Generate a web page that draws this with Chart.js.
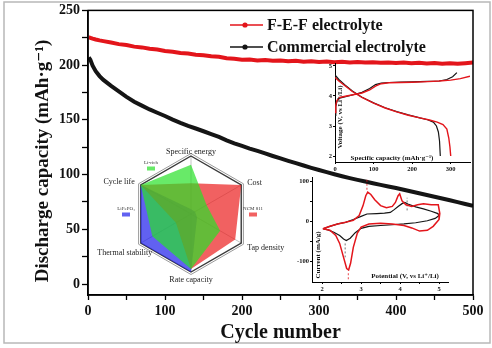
<!DOCTYPE html>
<html>
<head>
<meta charset="utf-8">
<script src="https://cdn.jsdelivr.net/npm/chart.js@4.4.1/dist/chart.umd.min.js"></script>
<style>
  body { margin: 0; background: #fff; }
  #wrap { position: relative; width: 492px; height: 348px; overflow: hidden; }
  #wrap canvas { position: absolute; }
</style>
</head>
<body>
<div id="wrap">
  <canvas id="main" width="492" height="348" style="left:0;top:0"></canvas>
  <canvas id="radar" width="220" height="160" style="left:81px;top:134px"></canvas>
  <canvas id="volt" width="165" height="120" style="left:310px;top:55px"></canvas>
  <canvas id="cv" width="170" height="124" style="left:285px;top:172px"></canvas>
</div>
<script>
// main panel: discharge capacity vs cycle
const cycles = [1, 3, 6, 10, 15, 20, 30, 40, 50, 60, 70, 80, 90, 100, 110, 120, 130, 140, 150, 160,
  170, 180, 190, 200, 210, 220, 230, 240, 250, 260, 270, 280, 290, 300, 310, 320, 330, 340, 350, 360,
  370, 380, 390, 400, 410, 420, 430, 440, 450, 460, 470, 480, 490, 500];
const fefCapacity = [225.5, 225, 224.2, 223.4, 222.6, 221.9, 220.6, 219.2, 218.3, 216.9, 216.2, 214.9, 214.2, 212.9, 212.3, 211.1, 210.6, 209.5, 209.1, 208.1,
  207.7, 206.3, 205.9, 205.0, 205.1, 204.3, 204.6, 203.9, 204.2, 203.5, 203.9, 203.2, 203.6, 202.9, 203.3, 202.7, 203.1, 202.5, 202.9, 202.3,
  202.7, 202.1, 202.5, 201.9, 202.3, 201.7, 202.1, 201.5, 201.9, 201.3, 201.7, 201.2, 201.8, 202.3];
const commercialCapacity = [207, 205, 199.5, 194.5, 190, 186.5, 181, 176, 171, 166.5, 163, 159.5, 156.5, 153.5, 150.2, 147.3, 144.6, 142.1, 139.6, 137,
  134.4, 131.2, 128.6, 126.2, 123.8, 121.6, 119.3, 117, 114.8, 112.6, 110.4, 108.3, 106.2, 104.2, 102.2, 100.3, 98.5, 96.8, 95.2, 93.7,
  92.1, 90.6, 89.1, 87.7, 86.1, 84.5, 82.9, 81.3, 79.7, 78.1, 76.5, 74.8, 73.1, 71.4];

// radar inset
const radarAxes = ['Specific energy', 'Cost', 'Tap density', 'Rate capacity', 'Thermal stability', 'Cycle life'];
const liRich = [0.85, 0.31, 0.58, 0.95, 0.77, 1.0];
const ncm811 = [0.53, 1.0, 0.88, 0.95, 0.3, 1.0];
const lfp = [0.08, 0.08, 0.12, 1.0, 1.0, 1.0];

// voltage profile inset
const redChargeCap = [0, 2, 5, 12, 30, 50, 70, 90, 105, 120, 140, 170, 200, 240, 270, 300, 325, 350];
const redChargeV = [3.45, 3.7, 3.85, 3.95, 4.0, 4.05, 4.1, 4.2, 4.33, 4.41, 4.44, 4.45, 4.46, 4.48, 4.5, 4.53, 4.58, 4.66];
const blackChargeCap = [0, 2, 5, 12, 30, 50, 70, 90, 105, 120, 140, 170, 200, 240, 270, 290, 305, 316];
const blackChargeV = [3.35, 3.65, 3.82, 3.93, 3.99, 4.05, 4.12, 4.25, 4.38, 4.43, 4.45, 4.46, 4.47, 4.49, 4.5, 4.55, 4.64, 4.78];
const redDisCap = [0, 10, 25, 45, 70, 100, 130, 160, 190, 220, 245, 265, 280, 290, 295, 298, 300];
const redDisV = [4.62, 4.5, 4.35, 4.15, 3.95, 3.76, 3.6, 3.47, 3.36, 3.27, 3.2, 3.13, 3.05, 2.9, 2.6, 2.3, 2.0];
const blackDisCap = [0, 10, 25, 45, 70, 100, 130, 160, 190, 220, 240, 255, 263, 268, 271, 273];
const blackDisV = [4.7, 4.55, 4.38, 4.17, 3.96, 3.77, 3.61, 3.48, 3.37, 3.27, 3.21, 3.13, 3.0, 2.8, 2.5, 2.0];

// CV inset
const redCvV = [2.02, 2.2, 2.4, 2.6, 2.8, 2.95, 3.05, 3.12, 3.17, 3.25, 3.35, 3.5, 3.65, 3.8, 3.88, 3.95, 3.99, 4.05, 4.15, 4.3, 4.45, 4.6, 4.8, 4.98, 5.02,
  5.0, 4.85, 4.7, 4.5, 4.3, 4.1, 3.8, 3.5, 3.2, 3.0, 2.9, 2.8, 2.73, 2.68, 2.63, 2.55, 2.45, 2.35, 2.2, 2.02];
const redCvI = [-18, -12, -6, -2, 3, 15, 40, 65, 74, 68, 55, 40, 35, 38, 48, 65, 70, 52, 42, 38, 42, 45, 42, 42, 20,
  5, -12, -22, -24, -16, -10, -6, -4, -6, -14, -30, -65, -105, -122, -118, -90, -55, -35, -22, -18];
const blackCvV = [2.02, 2.2, 2.4, 2.6, 2.8, 3.0, 3.15, 3.4, 3.6, 3.75, 3.85, 3.95, 4.05, 4.12, 4.2, 4.4, 4.6, 4.8, 4.97,
  5.0, 4.9, 4.7, 4.4, 4.1, 3.8, 3.5, 3.2, 3.0, 2.85, 2.72, 2.62, 2.55, 2.45, 2.3, 2.15, 2.02];
const blackCvI = [-18, -12, -6, -2, 5, 13, 19, 20, 21, 23, 30, 38, 45, 48, 44, 37, 32, 26, 20,
  15, 8, 2, -3, -6, -8, -10, -12, -17, -28, -42, -48, -44, -35, -27, -21, -18];
// peak marker dashes: [potential, from current, to current]
const redPeakMarks = [[3.15, 80, 105], [2.67, -130, -150]];
const blackPeakMarks = [[4.18, 28, 60], [2.59, -55, -90]];

const RED = '#e3151b';
const BLACK = '#151515';
const GREEN_FILL = 'rgba(40,225,40,0.7)';
const RED_FILL = 'rgba(235,30,30,0.7)';
const BLUE_FILL = 'rgba(30,30,235,0.7)';
const serif = "'Liberation Serif', 'DejaVu Serif', serif";
Chart.defaults.font.family = serif;
Chart.defaults.color = '#111';

const toPts = (xs, ys) => xs.map((x, i) => ({ x: x, y: ys[i] }));

// frame, outer border, legend and y title for the main panel
const mainDecor = {
  id: 'mainDecor',
  beforeDraw(chart) {
    const ctx = chart.ctx;
    ctx.save();
    ctx.strokeStyle = '#b8b8b8';
    ctx.lineWidth = 1.5;
    ctx.strokeRect(4, 2, 486, 341);
    ctx.restore();
  },
  afterDraw(chart) {
    const { ctx, chartArea: a } = chart;
    ctx.save();
    ctx.strokeStyle = '#000';
    ctx.lineWidth = 1.5;
    ctx.strokeRect(a.left, a.top, a.right - a.left, a.bottom - a.top);

    ctx.fillStyle = '#111';
    ctx.textBaseline = 'middle';
    ctx.font = 'bold 16px ' + serif;
    const items = [['F-E-F electrolyte', RED, 25], ['Commercial electrolyte', BLACK, 47]];
    items.forEach(([label, color, y]) => {
      ctx.strokeStyle = color;
      ctx.lineWidth = 1.5;
      ctx.beginPath();
      ctx.moveTo(230, y);
      ctx.lineTo(263, y);
      ctx.stroke();
      ctx.fillStyle = color;
      ctx.beginPath();
      ctx.arc(245, y, 2.6, 0, Math.PI * 2);
      ctx.fill();
      ctx.fillStyle = '#111';
      ctx.textAlign = 'left';
      ctx.fillText(label, 267, y + 1);
    });

    ctx.translate(43, 161);
    ctx.rotate(-Math.PI / 2);
    ctx.textAlign = 'center';
    ctx.font = 'bold 19px ' + serif;
    ctx.fillText('Discharge capacity (mAh·g⁻¹)', 0, 0);
    ctx.restore();
  }
};

new Chart(document.getElementById('main'), {
  type: 'line',
  data: {
    datasets: [
      { label: 'F-E-F electrolyte', data: toPts(cycles, fefCapacity), borderColor: RED, borderWidth: 4, pointRadius: 0 },
      { label: 'Commercial electrolyte', data: toPts(cycles, commercialCapacity), borderColor: BLACK, borderWidth: 4, pointRadius: 0 }
    ]
  },
  options: {
    responsive: false,
    animation: false,
    events: [],
    layout: { padding: { top: 10, right: 19, left: 0, bottom: 0 } },
    plugins: { legend: { display: false }, tooltip: { enabled: false } },
    scales: {
      x: {
        type: 'linear', min: 0, max: 500,
        afterFit: s => { s.height = 53; },
        ticks: { stepSize: 50, includeBounds: false, autoSkip: false, maxRotation: 0, padding: 3, color: '#111',
          font: { size: 14, weight: 'bold' }, callback: v => (v % 100 === 0 ? v : '') },
        grid: { drawOnChartArea: false, tickLength: 5, color: '#000', tickWidth: 1.3 },
        border: { color: '#000', width: 1.5 },
        title: { display: true, text: 'Cycle number', color: '#111', font: { size: 20, weight: 'bold' }, padding: { top: 0, bottom: 3 } }
      },
      y: {
        min: -10, max: 250,
        afterFit: s => { s.width = 88; },
        afterBuildTicks: s => { s.ticks = s.ticks.filter(t => t.value >= 0 && t.value % 25 === 0); },
        ticks: { stepSize: 25, includeBounds: false, autoSkip: false, padding: 2, color: '#111',
          font: { size: 14, weight: 'bold' }, callback: v => (v % 50 === 0 ? v : '') },
        grid: { drawOnChartArea: false, tickLength: 6, color: '#000', tickWidth: 1.3 },
        border: { color: '#000', width: 1.5 }
      }
    }
  },
  plugins: [mainDecor]
});

// radar: outer bevel, axis names and small legend swatches
const radarDecor = {
  id: 'radarDecor',
  afterDraw(chart) {
    const s = chart.scales.r;
    const ctx = chart.ctx;
    const R = s.drawingArea;
    ctx.save();
    ctx.strokeStyle = '#9a9a9a';
    ctx.lineWidth = 1;
    ctx.beginPath();
    radarAxes.forEach((_, i) => {
      const p = s.getPointPosition(i, R + 2.5);
      if (i) ctx.lineTo(p.x, p.y); else ctx.moveTo(p.x, p.y);
    });
    ctx.closePath();
    ctx.stroke();

    ctx.fillStyle = '#222';
    ctx.font = '8px ' + serif;
    const place = [[0, -4.5, 'center'], [6, -2, 'left'], [6, 5, 'left'], [0, 8, 'center'], [-16, 10, 'center'], [-6, -3, 'right']];
    radarAxes.forEach((name, i) => {
      const p = s.getPointPosition(i, R);
      ctx.textAlign = place[i][2];
      ctx.textBaseline = 'middle';
      ctx.fillText(name, p.x + place[i][0], p.y + place[i][1]);
    });

    const keys = [['Li-rich', GREEN_FILL, -40], ['LiFePO₄', BLUE_FILL, -65], ['NCM 811', RED_FILL, 62]];
    const rows = [-46, 0, 0];
    ctx.font = '5px ' + serif;
    ctx.textAlign = 'center';
    keys.forEach(([name, color, dx], k) => {
      const cx = s.xCenter + dx;
      const cy = s.yCenter + rows[k];
      ctx.fillStyle = '#333';
      ctx.fillText(name, cx, cy - 5);
      ctx.fillStyle = color;
      ctx.fillRect(cx - 4, cy - 1.5, 8, 4);
    });
    ctx.restore();
  }
};

new Chart(document.getElementById('radar'), {
  type: 'radar',
  data: {
    labels: radarAxes,
    datasets: [
      { label: 'Li-rich', data: liRich, backgroundColor: GREEN_FILL, borderWidth: 0, pointRadius: 0, fill: true },
      { label: 'NCM 811', data: ncm811, backgroundColor: RED_FILL, borderWidth: 0, pointRadius: 0, fill: true },
      { label: 'LiFePO4', data: lfp, backgroundColor: BLUE_FILL, borderWidth: 0, pointRadius: 0, fill: true }
    ]
  },
  options: {
    responsive: false,
    animation: false,
    events: [],
    layout: { padding: { left: 52, right: 52, top: 22, bottom: 22 } },
    plugins: { legend: { display: false }, tooltip: { enabled: false } },
    scales: {
      r: {
        min: 0, max: 1,
        ticks: { display: false, stepSize: 1 },
        pointLabels: { display: false },
        grid: { color: '#3a3a3a', lineWidth: 1.4 },
        angleLines: { color: 'rgba(40,40,40,0.35)', lineWidth: 0.8 }
      }
    }
  },
  plugins: [radarDecor]
});

// axis names written inside the small insets
function insetTitles(xText, xPos, yText, yPos) {
  return {
    id: 'insetTitles',
    afterDraw(chart) {
      const ctx = chart.ctx;
      ctx.save();
      ctx.fillStyle = '#111';
      ctx.font = 'bold 7px ' + serif;
      ctx.textAlign = 'center';
      ctx.textBaseline = 'middle';
      ctx.fillText(xText, xPos[0], xPos[1]);
      ctx.translate(yPos[0], yPos[1]);
      ctx.rotate(-Math.PI / 2);
      ctx.fillText(yText, 0, 0);
      ctx.restore();
    }
  };
}

const insetAxis = (extra) => Object.assign({
  grid: { drawOnChartArea: false, tickLength: 2, color: '#000' },
  border: { color: '#000', width: 1 }
}, extra);
const tinyTicks = { font: { size: 6.5, weight: 'bold' }, color: '#111', padding: 1, autoSkip: false, maxRotation: 0, includeBounds: false };

new Chart(document.getElementById('volt'), {
  type: 'scatter',
  data: {
    datasets: [
      { data: toPts(redChargeCap, redChargeV), borderColor: RED, showLine: true, pointRadius: 0, borderWidth: 1.4 },
      { data: toPts(redDisCap, redDisV), borderColor: RED, showLine: true, pointRadius: 0, borderWidth: 1.4 },
      { data: toPts(blackChargeCap, blackChargeV), borderColor: BLACK, showLine: true, pointRadius: 0, borderWidth: 1.2 },
      { data: toPts(blackDisCap, blackDisV), borderColor: BLACK, showLine: true, pointRadius: 0, borderWidth: 1.2 }
    ]
  },
  options: {
    responsive: false,
    animation: false,
    events: [],
    layout: { padding: { top: 8, right: 5, left: 0, bottom: 0 } },
    plugins: { legend: { display: false }, tooltip: { enabled: false } },
    scales: {
      x: insetAxis({
        type: 'linear', min: 0, max: 350,
        afterFit: s => { s.height = 13; },
        afterBuildTicks: s => { s.ticks = s.ticks.filter(t => t.value % 100 === 0); },
        ticks: Object.assign({ stepSize: 100 }, tinyTicks)
      }),
      y: insetAxis({
        min: 1.8, max: 5.1,
        afterFit: s => { s.width = 25; },
        afterBuildTicks: s => { s.ticks = s.ticks.filter(t => Math.abs(t.value - Math.round(t.value)) < 1e-6); },
        ticks: Object.assign({ stepSize: 1 }, tinyTicks)
      })
    }
  },
  plugins: [insetTitles('Specific capacity (mAh·g⁻¹)', [82, 103], 'Voltage (V, vs Li⁺/Li)', [30, 62])]
});

const markSets = [];
redPeakMarks.forEach(m => markSets.push({ data: [{ x: m[0], y: m[1] }, { x: m[0], y: m[2] }], borderColor: RED, borderDash: [2, 2], borderWidth: 0.8, showLine: true, pointRadius: 0 }));
blackPeakMarks.forEach(m => markSets.push({ data: [{ x: m[0], y: m[1] }, { x: m[0], y: m[2] }], borderColor: '#555', borderDash: [2, 2], borderWidth: 0.8, showLine: true, pointRadius: 0 }));

new Chart(document.getElementById('cv'), {
  type: 'scatter',
  data: {
    datasets: [
      { data: toPts(redCvV, redCvI), borderColor: RED, showLine: true, pointRadius: 0, borderWidth: 1.5 },
      { data: toPts(blackCvV, blackCvI), borderColor: BLACK, showLine: true, pointRadius: 0, borderWidth: 1.2 }
    ].concat(markSets)
  },
  options: {
    responsive: false,
    animation: false,
    events: [],
    layout: { padding: { top: 5, right: 7, left: 0, bottom: 0 } },
    plugins: { legend: { display: false }, tooltip: { enabled: false } },
    scales: {
      x: insetAxis({
        type: 'linear', min: 1.74, max: 5.23,
        afterFit: s => { s.height = 14; },
        afterBuildTicks: s => { s.ticks = s.ticks.filter(t => t.value >= 2 && t.value <= 5 && Math.abs(t.value * 2 - Math.round(t.value * 2)) < 1e-6); },
        ticks: Object.assign({ stepSize: 0.5, callback: v => (Math.abs(v - Math.round(v)) < 1e-6 ? Math.round(v) : '') }, tinyTicks)
      }),
      y: insetAxis({
        min: -152, max: 112,
        afterFit: s => { s.width = 27; },
        afterBuildTicks: s => { s.ticks = s.ticks.filter(t => t.value >= -100 && t.value <= 100 && t.value % 50 === 0); },
        ticks: Object.assign({ stepSize: 50, callback: v => (v % 100 === 0 ? v : '') }, tinyTicks)
      })
    }
  },
  plugins: [insetTitles('Potential (V, vs Li⁺/Li)', [120, 104], 'Current (mA/g)', [33, 83])]
});
</script>
</body>
</html>
